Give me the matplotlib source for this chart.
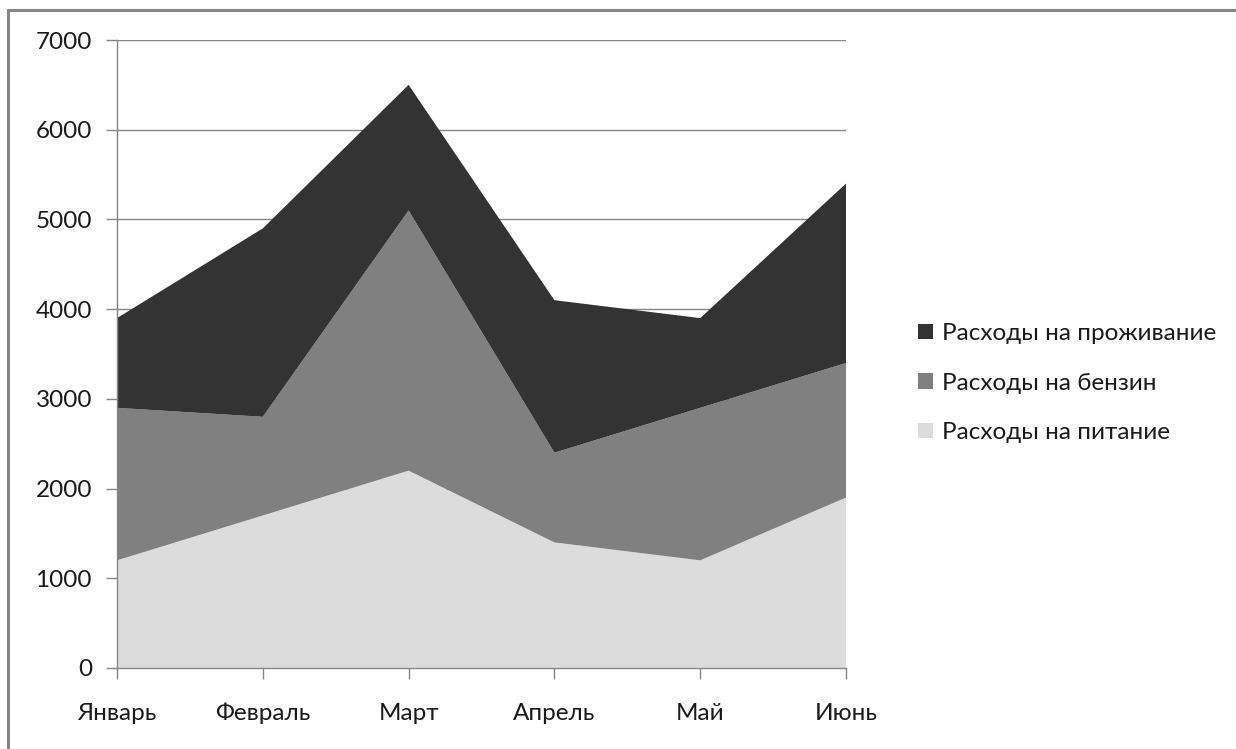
import matplotlib
matplotlib.use("Agg")
import matplotlib.pyplot as plt
from matplotlib.patches import Rectangle
import numpy as np

months = ["Январь", "Февраль", "Март", "Апрель", "Май", "Июнь"]
food = [1200, 1700, 2200, 1400, 1200, 1900]
fuel = [1700, 1100, 2900, 1000, 1700, 1500]
housing = [1000, 2100, 1400, 1700, 1000, 2000]
series_names = ["Расходы на питание", "Расходы на бензин", "Расходы на проживание"]
colors = ["#dcdcdc", "#808080", "#333333"]
yticks = [0, 1000, 2000, 3000, 4000, 5000, 6000, 7000]

plt.rcParams['font.family'] = ['Lato', 'DejaVu Sans']
W, H = 1236, 749
fig = plt.figure(figsize=(W / 100, H / 100), dpi=100)
fig.patches.append(Rectangle((8 / W, -0.1), 1.2, (H - 10) / H + 0.1, transform=fig.transFigure,
                             fill=False, edgecolor="#868686", linewidth=2.2))

ax = fig.add_axes([117 / W, (H - 668) / H, (846 - 117) / W, (668 - 40) / H])
x = np.arange(len(months))
polys = ax.stackplot(x, food, fuel, housing, colors=colors, labels=series_names, linewidth=0, zorder=2)
ax.set_xlim(0, len(months) - 1)
ax.set_ylim(0, 7000)
ax.set_yticks(yticks)
ax.set_yticklabels([str(v) for v in yticks])
ax.set_xticks(x)
ax.set_xticklabels(months)
ax.yaxis.grid(True, color="#868686", linewidth=1.0, zorder=1)
ax.set_axisbelow(True)
for s in ["top", "right"]:
    ax.spines[s].set_visible(False)
for s in ["left", "bottom"]:
    ax.spines[s].set_color("#868686")
    ax.spines[s].set_linewidth(1.0)
    ax.spines[s].set_zorder(3)
ax.tick_params(axis="both", direction="out", length=8, width=1.0, color="#868686",
               labelsize=17.5, labelcolor="#1a1a1a")
ax.tick_params(axis="y", pad=10)
ax.tick_params(axis="x", pad=17)

handles, labels = ax.get_legend_handles_labels()
leg = fig.legend(handles[::-1], labels[::-1], loc="center left", bbox_to_anchor=(918 / W, (H - 383) / H),
                 frameon=False, fontsize=17.5, handlelength=0.6, handleheight=0.6,
                 handletextpad=0.4, labelspacing=1.17, borderaxespad=0, borderpad=0)
for t in leg.get_texts():
    t.set_color("#1a1a1a")

fig.savefig("out.png", dpi=100)
